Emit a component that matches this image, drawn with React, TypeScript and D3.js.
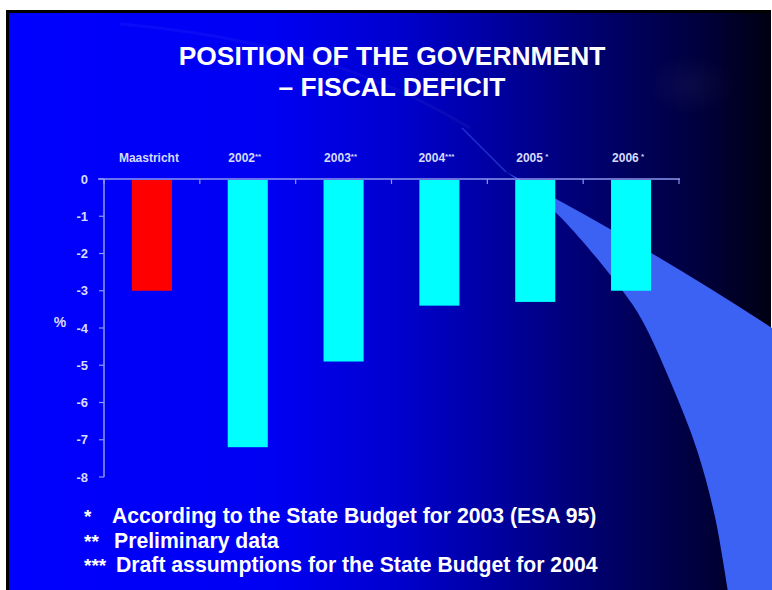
import React from "react";
import * as d3 from "d3";

const categories = ["Maastricht", "2002", "2003", "2004", "2005", "2006"];
const categoryMarks = ["", "**", "**", "***", " *", " *"];
const deficitValues = [-3.0, -7.2, -4.9, -3.4, -3.3, -3.0];
const barColors = ["#ff0000", "#00ffff", "#00ffff", "#00ffff", "#00ffff", "#00ffff"];
const yTicks = [0, -1, -2, -3, -4, -5, -6, -7, -8];
const titleLines = ["POSITION OF THE GOVERNMENT", "– FISCAL DEFICIT"];
const footMarks = ["*", "**", "***"];
const footTexts = [
  "According to the State Budget for 2003 (ESA 95)",
  "Preliminary data",
  "Draft assumptions for the State Budget for 2004",
];

const W = 772;
const H = 590;

export default function App() {
  const x = d3
    .scaleBand<string>()
    .domain(categories)
    .range([104, 679])
    .paddingInner(0.582)
    .paddingOuter(0.291);
  const y = d3.scaleLinear().domain([-8, 0]).range([477, 179]);
  const step = x.step();
  const r0 = x.range()[0];
  const boundaries = d3.range(categories.length + 1).map((i) => r0 + i * step);

  const lowerEdge: [number, number][] = [
    [728, 592],
    [715, 517],
    [697, 450],
    [671, 383],
    [642, 320],
    [622, 290],
    [567, 224],
    [530, 189],
    [506, 172],
  ];
  const swooshPath =
    "M506,172 Q650,248 772,328 L772,592 " +
    (d3.line().curve(d3.curveCatmullRom.alpha(0.5))(lowerEdge) || "").replace(/^M/, "L") +
    " Z";

  const font = "'Liberation Sans', Arial, Helvetica, sans-serif";
  const axisColor = "#8c98f0";
  const labelColor = "#d6dbff";

  return (
    <div style={{ position: "absolute", left: 0, top: 0 }}>
      <svg width={W} height={H} style={{ display: "block" }}>
        <defs>
          <linearGradient id="bg" x1="0" y1="0" x2="1" y2="0">
            <stop offset="0%" stopColor="#0000ff" />
            <stop offset="35%" stopColor="#0000f2" />
            <stop offset="52%" stopColor="#0000cc" />
            <stop offset="66%" stopColor="#000098" />
            <stop offset="80%" stopColor="#000062" />
            <stop offset="92%" stopColor="#000038" />
            <stop offset="100%" stopColor="#000012" />
          </linearGradient>
          <radialGradient id="faint" cx="0.5" cy="0.5" r="0.5">
            <stop offset="0%" stopColor="#ffffff" stopOpacity="0.04" />
            <stop offset="100%" stopColor="#ffffff" stopOpacity="0" />
          </radialGradient>
        </defs>
        <rect x={0} y={0} width={W} height={H} fill="#ffffff" />
        <rect x={6} y={10} width={W - 7} height={H - 10} fill="#000000" />
        <rect x={9} y={13} width={W - 10} height={H - 13} fill="url(#bg)" />
        {/* faint decorative arc */}
        <path
          d="M120,24 Q330,42 470,128"
          fill="none"
          stroke="#ffffff"
          strokeOpacity={0.04}
          strokeWidth={3}
        />
        <path d="M462,128 L506,172" stroke="#4a6cff" strokeOpacity={0.45} strokeWidth={1.5} fill="none" />
        <ellipse cx={690} cy={85} rx={45} ry={30} fill="url(#faint)" />
        {/* swoosh */}
        <path d={swooshPath} fill="#3b62f3" />

        {/* title */}
        {titleLines.map((t, i) => (
          <text
            key={t}
            x={392}
            y={65 + i * 31}
            textAnchor="middle"
            fill="#ffffff"
            fontFamily={font}
            fontWeight="bold"
            fontSize={26.4}
          >
            {t}
          </text>
        ))}

        {/* bars */}
        {categories.map((c, i) => {
          const v = deficitValues[i];
          return (
            <rect
              key={c}
              x={x(c)}
              y={y(0) + 1}
              width={x.bandwidth()}
              height={y(v) - y(0) - 1}
              fill={barColors[i]}
            />
          );
        })}

        {/* axes */}
        <line x1={98} x2={boundaries[boundaries.length - 1] + 1} y1={y(0)} y2={y(0)} stroke={axisColor} strokeWidth={1.5} />
        {boundaries.map((b, i) => (
          <line key={i} x1={b} x2={b} y1={y(0)} y2={y(0) + 5} stroke={axisColor} strokeWidth={1.2} />
        ))}
        <line x1={r0} x2={r0} y1={y(0)} y2={y(-8)} stroke={axisColor} strokeWidth={1.5} />
        {yTicks.map((t) => (
          <g key={t}>
            <line x1={r0 - 5} x2={r0} y1={y(t)} y2={y(t)} stroke={axisColor} strokeWidth={1.2} />
            <text
              x={88}
              y={y(t) + 4.5}
              textAnchor="end"
              fill={labelColor}
              fontFamily={font}
              fontWeight="bold"
              fontSize={13}
            >
              {t === 0 ? "0" : "-" + Math.abs(t)}
            </text>
          </g>
        ))}
        <text x={60} y={327} textAnchor="middle" fill={labelColor} fontFamily={font} fontWeight="bold" fontSize={14}>
          %
        </text>

        {/* category labels */}
        {categories.map((c, i) => (
          <text
            key={c}
            x={(x(c) || 0) + x.bandwidth() / 2 - 3}
            y={162}
            textAnchor="middle"
            fill={labelColor}
            fontFamily={font}
            fontWeight="bold"
            fontSize={12}
          >
            {c}
            {categoryMarks[i] && (
              <tspan fontSize={8} dy={-3}>
                {categoryMarks[i]}
              </tspan>
            )}
          </text>
        ))}

        {/* footnotes */}
        {footTexts.map((t, i) => (
          <g key={t}>
            <text x={84} y={523 + i * 24.5} fill="#ffffff" fontFamily={font} fontWeight="bold" fontSize={19}>
              {footMarks[i]}
            </text>
            <text x={[112, 114, 116][i]} y={523 + i * 24.5} fill="#ffffff" fontFamily={font} fontWeight="bold" fontSize={21.2}>
              {t}
            </text>
          </g>
        ))}
      </svg>
    </div>
  );
}
